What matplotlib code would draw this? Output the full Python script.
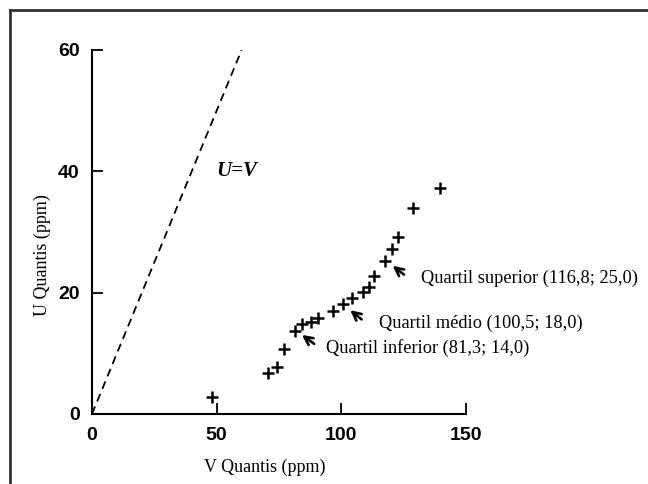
import matplotlib
matplotlib.use("Agg")
import matplotlib.pyplot as plt
from matplotlib.lines import Line2D

# quantile pairs
v_quantis = [48.3, 70.4, 74.0, 77.2, 81.5, 84.3, 87.7, 90.8, 96.6, 100.7,
             104.3, 108.5, 111.2, 113.2, 117.5, 120.3, 122.8, 128.7, 139.5]
u_quantis = [2.8, 6.8, 7.7, 10.7, 13.7, 14.9, 15.2, 15.9, 17.0, 18.1,
             19.2, 20.1, 20.9, 22.7, 25.2, 27.2, 29.1, 34.0, 37.3]

x_ticks = [0, 50, 100, 150]
y_ticks = [0, 20, 40, 60]

quartil_labels = ["Quartil inferior (81,3; 14,0)",
                  "Quartil médio (100,5; 18,0)",
                  "Quartil superior (116,8; 25,0)"]
quartil_tips = [(83.3, 13.3), (102.7, 17.4), (119.7, 24.7)]
quartil_tails = [(90.0, 11.3), (109.0, 15.3), (126.0, 22.7)]
quartil_text = [(94.0, 10.8), (115.0, 14.9), (132.0, 22.3)]

serif = ["Liberation Serif", "DejaVu Serif"]
tick_font = {"family": ["Liberation Sans", "DejaVu Sans"], "weight": "bold", "size": 14}

fig = plt.figure(figsize=(6.48, 4.84), dpi=100)
ax = fig.add_axes([92 / 648, 1 - 414 / 484, (466 - 92) / 648, (414 - 50) / 484])

ax.plot([0, 60], [0, 60], linestyle=(0, (4.5, 3)), color="black", linewidth=1.3)
ax.plot(v_quantis, u_quantis, linestyle="none", marker="+", markersize=8.5,
        markeredgewidth=1.8, color="black", clip_on=False)

ax.text(50, 40, "U=V", fontsize=15, fontweight="bold", fontstyle="italic",
        family=serif, va="center", ha="left")

for label, tip, tail, pos in zip(quartil_labels, quartil_tips, quartil_tails, quartil_text):
    ax.annotate("", xy=tip, xytext=tail,
                arrowprops=dict(arrowstyle="->", color="black", lw=1.9,
                                mutation_scale=15))
    ax.text(pos[0], pos[1], label, fontsize=13.2, family=serif,
            va="center", ha="left")

ax.set_xlim(0, 150)
ax.set_ylim(0, 60)
ax.set_xticks(x_ticks)
ax.set_yticks(y_ticks)
ax.set_xticklabels([str(t) for t in x_ticks], fontdict=tick_font)
ax.set_yticklabels([str(t) for t in y_ticks], fontdict=tick_font)
ax.tick_params(direction="in", length=8, width=1.3)
ax.tick_params(axis="x", pad=9)
ax.tick_params(axis="y", pad=9)

for side in ["top", "right"]:
    ax.spines[side].set_visible(False)
for side in ["left", "bottom"]:
    ax.spines[side].set_linewidth(1.5)

fig.text(265 / 648, 1 - 467 / 484, "V Quantis (ppm)", fontsize=13,
         family=serif, ha="center", va="center")
fig.text(42 / 648, 1 - 255 / 484, "U Quantis (ppm)", fontsize=13,
         family=serif, ha="center", va="center", rotation=90)

# scanned page frame
fig.add_artist(Line2D([10 / 648, 1], [1 - 10 / 484, 1 - 10 / 484],
                      transform=fig.transFigure, color="#333333", linewidth=2))
fig.add_artist(Line2D([10 / 648, 10 / 648], [0, 1 - 10 / 484],
                      transform=fig.transFigure, color="#333333", linewidth=2))

fig.savefig("out.png", dpi=100)
plt.close(fig)
